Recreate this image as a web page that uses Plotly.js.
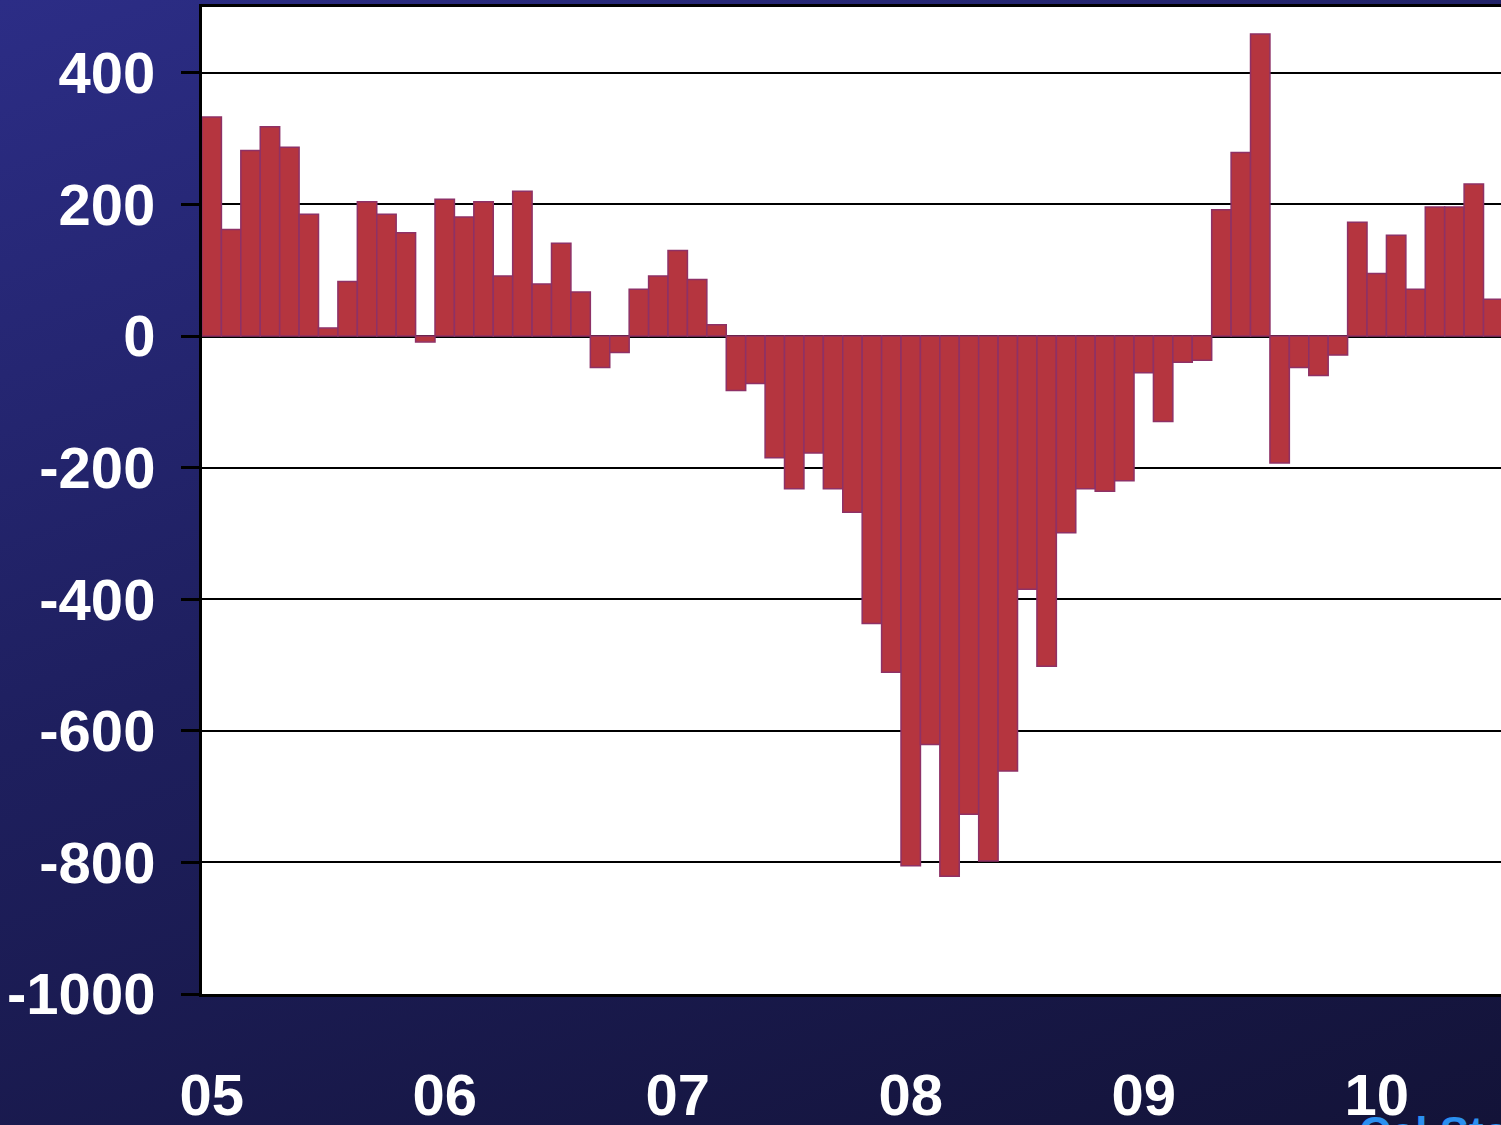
<!DOCTYPE html>
<html>
<head>
<meta charset="utf-8">
<script src="https://cdn.plot.ly/plotly-3.0.1.min.js"></script>
<style>
  html, body { margin: 0; padding: 0; width: 1501px; height: 1125px; overflow: hidden; }
  body { background: linear-gradient(160deg, #2c2d86 0%, #1e1f5e 45%, #131338 100%); }
  #chart { width: 1501px; height: 1125px; }
</style>
</head>
<body>
<div id="chart"></div>
<script>
// Monthly values, Jan 2005 .. Jul 2010
const values = [
  333, 162, 282, 318, 287, 185, 12, 83, 204, 185, 157, -9,
  208, 181, 204, 91, 220, 79, 141, 67, -48, -25, 71, 91,
  130, 86, 17, -83, -72, -185, -232, -178, -232, -268, -437, -511,
  -805, -621, -821, -727, -798, -661, -385, -502, -299, -232, -236, -220,
  -56, -130, -40, -37, 192, 279, 459, -193, -48, -60, -29, 173,
  95, 153, 71, 196, 196, 231, 56
];
const monthIndex = values.map((v, i) => i);
const tickPositions = [0, 12, 24, 36, 48, 60];
const tickLabels = ["05", "06", "07", "08", "09", "10"];
const yTicks = [-1000, -800, -600, -400, -200, 0, 200, 400];
const yTickLabels = ["-1000", "-800", "-600", "-400", "-200", "0", "200", "400"];

const labelFont = { family: "'Liberation Sans Narrow', 'Arial Narrow', 'Liberation Sans', Arial, sans-serif", size: 58, color: "#ffffff", weight: "bold" };

const trace = {
  type: "bar",
  x: monthIndex,
  y: values,
  marker: { color: "#b5353f", line: { color: "#8e3166", width: 1.5 } },
  hoverinfo: "y"
};

const layout = {
  width: 1501,
  height: 1125,
  margin: { l: 202, r: 0, t: 7, b: 131 },
  paper_bgcolor: "rgba(0,0,0,0)",
  plot_bgcolor: "#ffffff",
  bargap: 0,
  showlegend: false,
  xaxis: {
    range: [-0.5, 66.4],
    tickvals: tickPositions,
    ticktext: tickLabels,
    ticks: "",
    tickfont: labelFont,
    ticklabelstandoff: 48,
    showgrid: false,
    zeroline: false,
    showline: true,
    linecolor: "#000000",
    linewidth: 3,
    mirror: true
  },
  yaxis: {
    range: [-1000, 500],
    tickvals: yTicks,
    ticktext: yTickLabels,
    ticks: "outside",
    ticklen: 18,
    tickwidth: 3,
    tickcolor: "#000000",
    tickfont: labelFont,
    ticklabelstandoff: 14,
    showgrid: true,
    gridcolor: "#000000",
    gridwidth: 2,
    zeroline: true,
    zerolinecolor: "#000000",
    zerolinewidth: 3,
    showline: true,
    linecolor: "#000000",
    linewidth: 3,
    mirror: true
  },
  annotations: [{
    xref: "paper", yref: "paper",
    x: (1355 - 202) / 1297, y: -(1106 - 994) / 987,
    xanchor: "left", yanchor: "top",
    text: "Cal State",
    showarrow: false,
    font: { family: "'Liberation Sans', Arial, sans-serif", size: 44, color: "#2b90f0", weight: "bold" }
  }]
};

Plotly.newPlot("chart", [trace], layout, { displayModeBar: false, staticPlot: true });
</script>
</body>
</html>
